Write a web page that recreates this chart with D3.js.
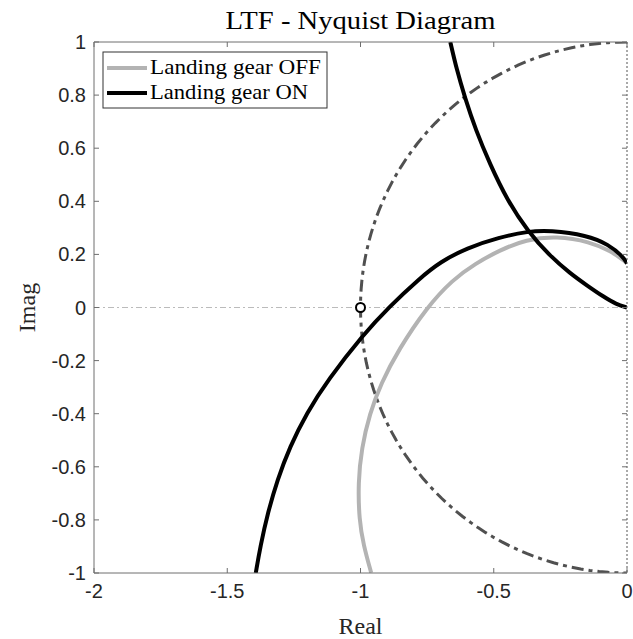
<!DOCTYPE html>
<html>
<head>
<meta charset="utf-8">
<script src="https://cdn.jsdelivr.net/npm/d3@7"></script>
<style>
  body { margin: 0; background: #fff; }
  svg { display: block; }
</style>
</head>
<body>
<svg id="chart"></svg>
<script>
// tick values
const xTicks = [-2, -1.5, -1, -0.5, 0];
const yTicks = [-1, -0.8, -0.6, -0.4, -0.2, 0, 0.2, 0.4, 0.6, 0.8, 1];

// Landing gear OFF
const offRe = [0, -0.014, -0.06, -0.14, -0.263, -0.38, -0.477, -0.57, -0.654, -0.752, -0.858, -0.922, -0.966, -0.996, -1.009, -1.005, -0.989, -0.960];
const offIm = [0.167, 0.179, 0.212, 0.248, 0.269, 0.256, 0.216, 0.165, 0.105, 0, -0.160, -0.284, -0.40, -0.53, -0.66, -0.80, -0.894, -0.999];

// Landing gear ON, main branch
const onRe = [0, -0.014, -0.07, -0.15, -0.289, -0.371, -0.48, -0.602, -0.70, -0.778, -0.895, -0.988, -1.123, -1.202, -1.265, -1.312, -1.348, -1.376, -1.393];
const onIm = [0.166, 0.191, 0.238, 0.272, 0.291, 0.287, 0.264, 0.224, 0.172, 0.110, 0, -0.10, -0.273, -0.398, -0.524, -0.649, -0.774, -0.900, -1.0];

// Landing gear ON, second branch going out the top
const loopRe = [0, -0.04, -0.089, -0.15, -0.214, -0.29, -0.371, -0.45, -0.515, -0.567, -0.609, -0.64, -0.663];
const loopIm = [0, 0.012, 0.041, 0.083, 0.129, 0.195, 0.285, 0.405, 0.542, 0.667, 0.793, 0.90, 1.0];

const criticalPoint = [-1, 0];
const unitRadius = 1;

const W = 633, H = 639;
const margin = {left: 94, right: 6, top: 42, bottom: 66};

const svg = d3.select("#chart").attr("width", W).attr("height", H);

const x = d3.scaleLinear().domain([-2, 0]).range([margin.left, W - margin.right]);
const y = d3.scaleLinear().domain([-1, 1]).range([H - margin.bottom, margin.top]);

const tickFont = "'Liberation Sans', Arial, sans-serif";
const serif = "'Liberation Serif', 'Times New Roman', serif";

svg.append("defs").append("clipPath").attr("id", "plotClip")
    .append("rect")
    .attr("x", x(-2)).attr("y", y(1))
    .attr("width", x(0) - x(-2)).attr("height", y(-1) - y(1));

const plot = svg.append("g").attr("clip-path", "url(#plotClip)");

// zero reference line
plot.append("line")
    .attr("x1", x(-2)).attr("x2", x(0))
    .attr("y1", y(0)).attr("y2", y(0))
    .attr("stroke", "#aaa").attr("stroke-width", 0.8)
    .attr("stroke-dasharray", "6,3,2,3");

// unit circle (only the left half falls inside the axes)
const circlePts = d3.range(90, 271, 2).map(a => [unitRadius * Math.cos(a * Math.PI / 180), unitRadius * Math.sin(a * Math.PI / 180)]);
plot.append("path")
    .attr("d", d3.line().x(d => x(d[0])).y(d => y(d[1]))(circlePts))
    .attr("fill", "none")
    .attr("stroke", "#505050").attr("stroke-width", 3)
    .attr("stroke-dasharray", "12,5,4,5");

// smooth spline through the read-off points
const line = d3.line().x(d => x(d[0])).y(d => y(d[1])).curve(d3.curveBasis);

plot.append("path")
    .attr("d", line(offRe.map((v, i) => [v, offIm[i]])))
    .attr("fill", "none").attr("stroke", "#b3b3b3").attr("stroke-width", 4);

plot.append("path")
    .attr("d", line(onRe.map((v, i) => [v, onIm[i]])))
    .attr("fill", "none").attr("stroke", "#000").attr("stroke-width", 4);

plot.append("path")
    .attr("d", line(loopRe.map((v, i) => [v, loopIm[i]])))
    .attr("fill", "none").attr("stroke", "#000").attr("stroke-width", 4);

// axes box
const axisColor = "#6e6e6e";
svg.append("line").attr("x1", x(-2)).attr("x2", x(0)).attr("y1", y(1)).attr("y2", y(1))
    .attr("stroke", axisColor).attr("stroke-width", 1);
svg.append("line").attr("x1", x(-2)).attr("x2", x(0)).attr("y1", y(-1)).attr("y2", y(-1))
    .attr("stroke", axisColor).attr("stroke-width", 1);
svg.append("line").attr("x1", x(-2)).attr("x2", x(-2)).attr("y1", y(1)).attr("y2", y(-1))
    .attr("stroke", axisColor).attr("stroke-width", 1);
svg.append("line").attr("x1", x(0)).attr("x2", x(0)).attr("y1", y(1)).attr("y2", y(-1))
    .attr("stroke", "#555").attr("stroke-width", 1).attr("stroke-dasharray", "2,2");

// ticks, pointing inward on all four sides
const tickLen = 5;
xTicks.forEach(t => {
    svg.append("line").attr("x1", x(t)).attr("x2", x(t)).attr("y1", y(-1)).attr("y2", y(-1) - tickLen)
        .attr("stroke", axisColor);
    svg.append("line").attr("x1", x(t)).attr("x2", x(t)).attr("y1", y(1)).attr("y2", y(1) + tickLen)
        .attr("stroke", axisColor);
});
yTicks.forEach(t => {
    svg.append("line").attr("x1", x(-2)).attr("x2", x(-2) + tickLen).attr("y1", y(t)).attr("y2", y(t))
        .attr("stroke", axisColor);
    svg.append("line").attr("x1", x(0)).attr("x2", x(0) - tickLen).attr("y1", y(t)).attr("y2", y(t))
        .attr("stroke", axisColor);
});

svg.append("g").selectAll("text").data(xTicks).join("text")
    .attr("x", d => x(d)).attr("y", y(-1) + 25)
    .attr("text-anchor", "middle")
    .attr("font-family", tickFont).attr("font-size", 20).attr("fill", "#262626")
    .text(d => d3.format("")(d).replace("−", "-"));

svg.append("g").selectAll("text").data(yTicks).join("text")
    .attr("x", x(-2) - 8).attr("y", d => y(d) + 7)
    .attr("text-anchor", "end")
    .attr("font-family", tickFont).attr("font-size", 20).attr("fill", "#262626")
    .text(d => d3.format("")(d).replace("−", "-"));

// critical point marker
svg.append("circle")
    .attr("cx", x(criticalPoint[0])).attr("cy", y(criticalPoint[1]))
    .attr("r", 4.5).attr("fill", "#fff").attr("stroke", "#000").attr("stroke-width", 2);

// titles
svg.append("text").attr("x", (x(-2) + x(0)) / 2).attr("y", 29)
    .attr("text-anchor", "middle").attr("font-family", serif).attr("font-size", 25).attr("fill", "#000")
    .attr("textLength", 270).attr("lengthAdjust", "spacingAndGlyphs")
    .text("LTF - Nyquist Diagram");
svg.append("text").attr("x", (x(-2) + x(0)) / 2).attr("y", 634)
    .attr("text-anchor", "middle").attr("font-family", serif).attr("font-size", 24).attr("fill", "#262626")
    .text("Real");
svg.append("text").attr("transform", `translate(35,${y(0)}) rotate(-90)`)
    .attr("text-anchor", "middle").attr("font-family", serif).attr("font-size", 24).attr("fill", "#262626")
    .text("Imag");

// legend
const legend = svg.append("g");
legend.append("rect").attr("x", 103).attr("y", 52).attr("width", 224).attr("height", 56)
    .attr("fill", "#fff").attr("stroke", "#333").attr("stroke-width", 1);
const legendItems = [
    {label: "Landing gear OFF", color: "#b3b3b3", width: 171},
    {label: "Landing gear ON", color: "#000", width: 158}
];
legendItems.forEach((d, i) => {
    const ly = 68 + i * 25;
    legend.append("line").attr("x1", 107).attr("x2", 147).attr("y1", ly).attr("y2", ly)
        .attr("stroke", d.color).attr("stroke-width", 4);
    legend.append("text").attr("x", 150).attr("y", ly + 6)
        .attr("font-family", serif).attr("font-size", 21).attr("fill", "#000")
        .attr("textLength", d.width).attr("lengthAdjust", "spacingAndGlyphs")
        .text(d.label);
});
</script>
</body>
</html>
